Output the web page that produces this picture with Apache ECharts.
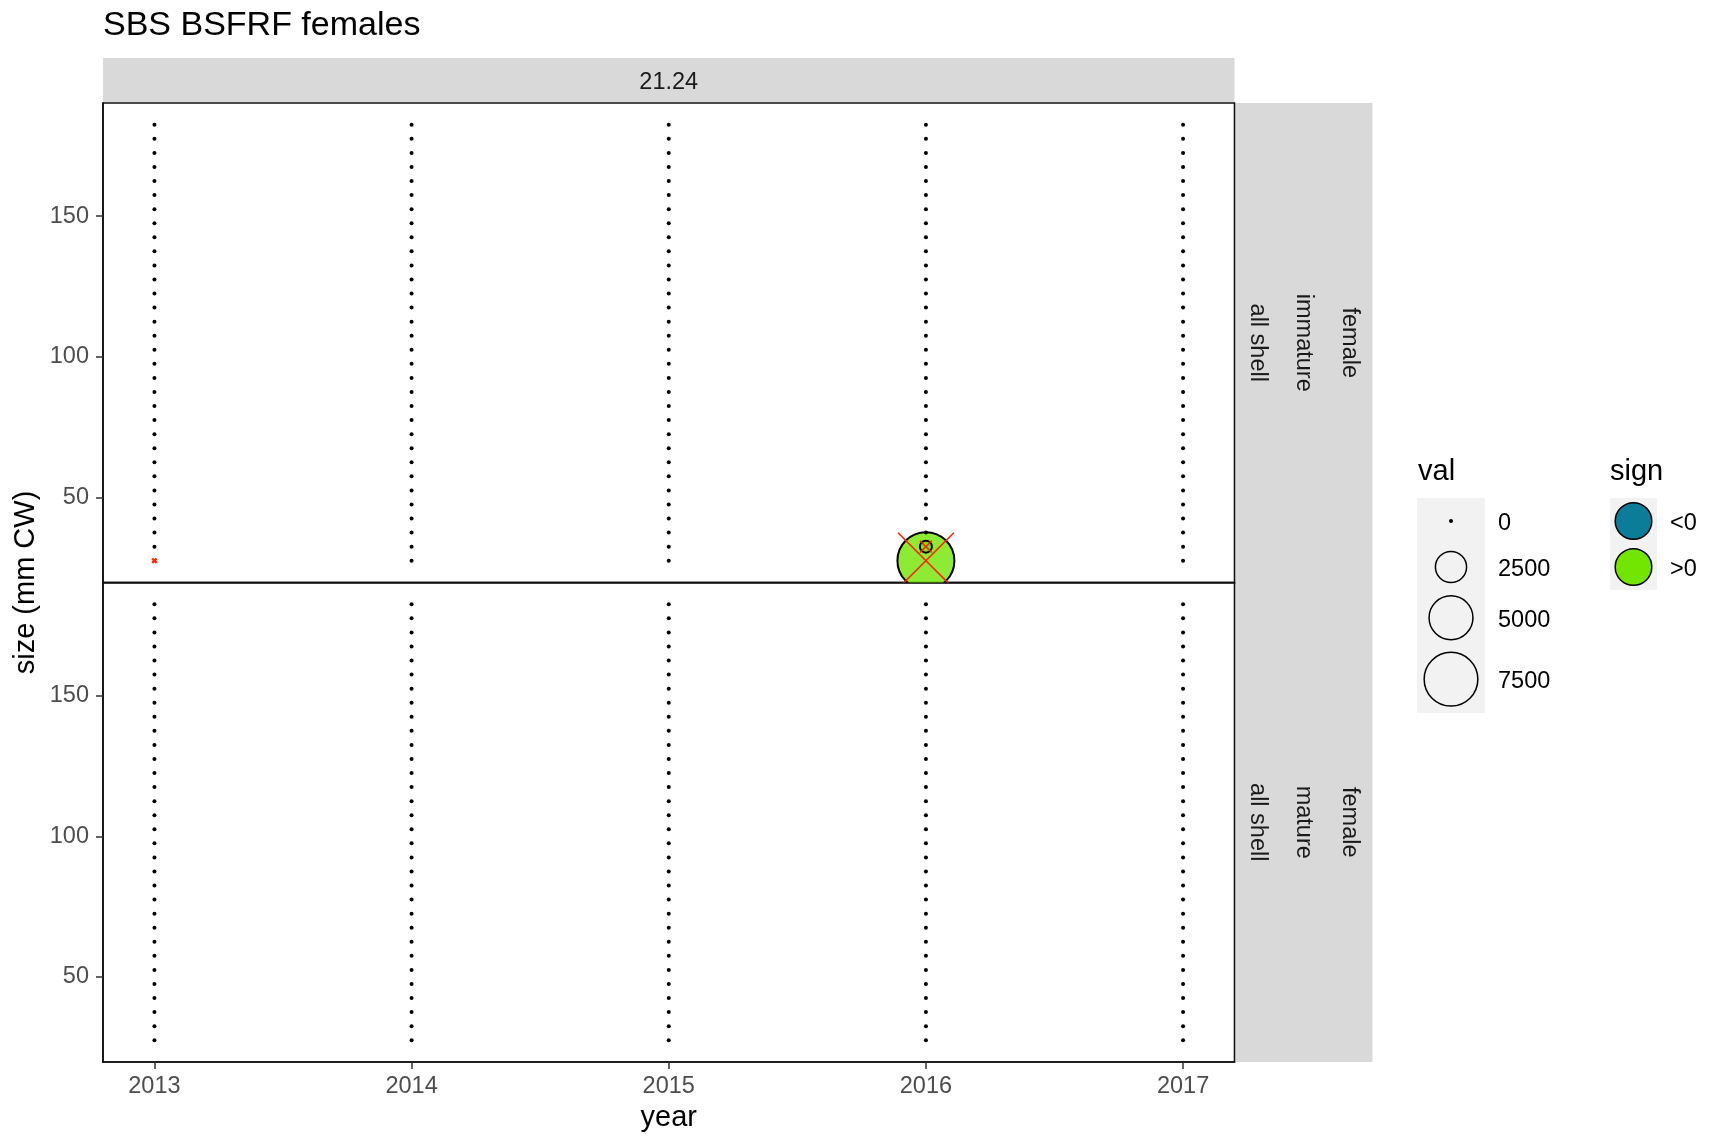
<!DOCTYPE html>
<html>
<head>
<meta charset="utf-8">
<script src="https://cdn.jsdelivr.net/npm/echarts@6/dist/echarts.min.js"></script>
<style>
html,body{margin:0;padding:0;background:#fff;}
#chart{width:1713px;height:1137px;}
</style>
</head>
<body>
<div id="chart"></div>
<script>
// ---------------- data ----------------
const years = [2013, 2014, 2015, 2016, 2017];
const sizeBins = [27.5, 32.5, 37.5, 42.5, 47.5, 52.5, 57.5, 62.5, 67.5, 72.5, 77.5, 82.5, 87.5, 92.5, 97.5, 102.5,
  107.5, 112.5, 117.5, 122.5, 127.5, 132.5, 137.5, 142.5, 147.5, 152.5, 157.5, 162.5, 167.5, 172.5, 177.5, 182.5];
const yTicks = [50, 100, 150];
const xTicks = [2013, 2014, 2015, 2016, 2017];

// immature females, one array per year (value per size bin)
const imm2013 = [null, 0, 0, 0, 0, 0, 0, 0, 0, 0, 0, 0, 0, 0, 0, 0, 0, 0, 0, 0, 0, 0, 0, 0, 0, 0, 0, 0, 0, 0, 0, 0];
const imm2014 = [0, 0, 0, 0, 0, 0, 0, 0, 0, 0, 0, 0, 0, 0, 0, 0, 0, 0, 0, 0, 0, 0, 0, 0, 0, 0, 0, 0, 0, 0, 0, 0];
const imm2015 = [0, 0, 0, 0, 0, 0, 0, 0, 0, 0, 0, 0, 0, 0, 0, 0, 0, 0, 0, 0, 0, 0, 0, 0, 0, 0, 0, 0, 0, 0, 0, 0];
const imm2016 = [8460, 335, 0, 0, 0, 0, 0, 0, 0, 0, 0, 0, 0, 0, 0, 0, 0, 0, 0, 0, 0, 0, 0, 0, 0, 0, 0, 0, 0, 0, 0, 0];
const imm2017 = [0, 0, 0, 0, 0, 0, 0, 0, 0, 0, 0, 0, 0, 0, 0, 0, 0, 0, 0, 0, 0, 0, 0, 0, 0, 0, 0, 0, 0, 0, 0, 0];
// mature females
const mat2013 = [0, 0, 0, 0, 0, 0, 0, 0, 0, 0, 0, 0, 0, 0, 0, 0, 0, 0, 0, 0, 0, 0, 0, 0, 0, 0, 0, 0, 0, 0, 0, 0];
const mat2014 = [0, 0, 0, 0, 0, 0, 0, 0, 0, 0, 0, 0, 0, 0, 0, 0, 0, 0, 0, 0, 0, 0, 0, 0, 0, 0, 0, 0, 0, 0, 0, 0];
const mat2015 = [0, 0, 0, 0, 0, 0, 0, 0, 0, 0, 0, 0, 0, 0, 0, 0, 0, 0, 0, 0, 0, 0, 0, 0, 0, 0, 0, 0, 0, 0, 0, 0];
const mat2016 = [0, 0, 0, 0, 0, 0, 0, 0, 0, 0, 0, 0, 0, 0, 0, 0, 0, 0, 0, 0, 0, 0, 0, 0, 0, 0, 0, 0, 0, 0, 0, 0];
const mat2017 = [0, 0, 0, 0, 0, 0, 0, 0, 0, 0, 0, 0, 0, 0, 0, 0, 0, 0, 0, 0, 0, 0, 0, 0, 0, 0, 0, 0, 0, 0, 0, 0];

// red crosses (immature panel)
const crossYear = [2013, 2016, 2016];
const crossSize = [27.5, 27.5, 32.5];
const crossVal = [0, 8460, 335];

// legend
const valBreaks = [0, 2500, 5000, 7500];
const signLabels = ['<0', '>0'];

// ---------------- styling ----------------
const FONT = 'Liberation Sans, Arial, Helvetica, sans-serif';
const signColors = ['#0b7d98', '#72e600'];
const bubbleFill = 'rgba(114,230,0,0.8)';
const crossColor = '#ff2400';
function radiusOf(v) { return Math.sqrt(4 + 0.0955 * Math.max(0, v)); }

function buildData(arrs) {
  const out = [];
  years.forEach((y, i) => {
    arrs[i].forEach((v, j) => { if (v !== null) out.push([y, sizeBins[j], v]); });
  });
  return out;
}
const immData = buildData([imm2013, imm2014, imm2015, imm2016, imm2017]);
const matData = buildData([mat2013, mat2014, mat2015, mat2016, mat2017]);
const crossData = crossYear.map((y, i) => [y, crossSize[i], crossVal[i]]);

function renderPoint(params, api) {
  const c = api.coord([api.value(0), api.value(1)]);
  const r = radiusOf(api.value(2));
  if (r < 3.5) {
    return {type: 'circle', shape: {cx: c[0], cy: c[1], r: 2}, style: {fill: '#000'}};
  }
  return {type: 'circle', shape: {cx: c[0], cy: c[1], r: r},
    style: {fill: bubbleFill, stroke: '#000', lineWidth: 2}};
}
function renderCross(params, api) {
  const c = api.coord([api.value(0), api.value(1)]);
  const h = Math.max(2.2, radiusOf(api.value(2)) * 0.98);
  const lw = h < 4 ? 2.4 : 1.6;
  return {type: 'group', children: [
    {type: 'line', shape: {x1: c[0] - h, y1: c[1] - h, x2: c[0] + h, y2: c[1] + h}, style: {stroke: crossColor, lineWidth: lw}},
    {type: 'line', shape: {x1: c[0] + h, y1: c[1] - h, x2: c[0] - h, y2: c[1] + h}, style: {stroke: crossColor, lineWidth: lw}}
  ]};
}

// ---------------- layout ----------------
const PL = 103, PR = 1234.5, PT = 103, PM = 582.5, PB = 1062;
const gridBase = {left: PL, width: PR - PL, show: true, borderColor: '#111', borderWidth: 1.6, backgroundColor: '#fff'};

function yAxisFor(gi) {
  return {
    type: 'value', gridIndex: gi, min: 19.75, max: 190.25,
    splitLine: {show: false},
    axisLine: {show: true, lineStyle: {color: '#111', width: 1.6}},
    axisTick: {show: true, length: 7, customValues: yTicks, lineStyle: {color: '#333', width: 1.5}},
    axisLabel: {show: true, customValues: yTicks, fontSize: 23.5, color: '#4d4d4d', margin: 14, fontFamily: FONT,
      formatter: v => String(v)}
  };
}
function xAxisFor(gi, showLabels) {
  return {
    type: 'value', gridIndex: gi, min: 2012.8, max: 2017.2,
    splitLine: {show: false},
    axisLine: {show: true, lineStyle: {color: '#111', width: 1.6}},
    axisTick: {show: showLabels, length: 7, customValues: xTicks, lineStyle: {color: '#333', width: 1.5}},
    axisLabel: {show: showLabels, customValues: xTicks, fontSize: 23.5, color: '#4d4d4d', margin: 13, fontFamily: FONT,
      formatter: v => String(v)}
  };
}

const graphics = [];
// strips
graphics.push({type: 'rect', shape: {x: PL, y: 58, width: PR - PL, height: PT - 59}, style: {fill: '#d9d9d9'}, z: -1});
graphics.push({type: 'text', x: (PL + PR) / 2, y: 83, style: {text: '21.24', font: '23.5px ' + FONT, fill: '#1a1a1a', align: 'center', verticalAlign: 'middle'}, z: 2});
graphics.push({type: 'rect', shape: {x: PR + 1, y: PT, width: 1372.5 - PR - 1, height: PB - PT}, style: {fill: '#d9d9d9'}, z: -1});
const stripCols = [1257.5, 1303.5, 1349.5];
const stripRows = [[(PT + PM) / 2, ['all shell', 'immature', 'female']], [(PM + PB) / 2, ['all shell', 'mature', 'female']]];
stripRows.forEach(([cy, labs]) => {
  labs.forEach((t, k) => {
    graphics.push({type: 'text', x: stripCols[k], y: cy, rotation: -Math.PI / 2,
      style: {text: t, font: '23.5px ' + FONT, fill: '#1a1a1a', align: 'center', verticalAlign: 'middle'}, z: 2});
  });
});
// axis titles
graphics.push({type: 'text', x: (PL + PR) / 2, y: 1118, style: {text: 'year', font: '29px ' + FONT, fill: '#000', align: 'center', verticalAlign: 'middle'}});
graphics.push({type: 'text', x: 26, y: (PT + PB) / 2, rotation: Math.PI / 2, style: {text: 'size (mm CW)', font: '29px ' + FONT, fill: '#000', align: 'center', verticalAlign: 'middle'}});

// legend: val
graphics.push({type: 'text', x: 1418, y: 472, style: {text: 'val', font: '29px ' + FONT, fill: '#000', align: 'left', verticalAlign: 'middle'}});
const keyH = [46, 46, 55.4, 67.6];
let ky = 498;
graphics.push({type: 'rect', shape: {x: 1417, y: ky, width: 68, height: keyH.reduce((a, b) => a + b, 0)}, style: {fill: '#f2f2f2'}});
valBreaks.forEach((b, i) => {
  const cy = ky + keyH[i] / 2;
  const r = radiusOf(b);
  if (r < 3.5) {
    graphics.push({type: 'circle', shape: {cx: 1451, cy: cy, r: 2}, style: {fill: '#000'}});
  } else {
    graphics.push({type: 'circle', shape: {cx: 1451, cy: cy, r: r}, style: {fill: 'none', stroke: '#000', lineWidth: 1.5}});
  }
  graphics.push({type: 'text', x: 1498, y: cy + 2.5, style: {text: String(b), font: '23.5px ' + FONT, fill: '#000', align: 'left', verticalAlign: 'middle'}});
  ky += keyH[i];
});
// legend: sign
graphics.push({type: 'text', x: 1610, y: 472, style: {text: 'sign', font: '29px ' + FONT, fill: '#000', align: 'left', verticalAlign: 'middle'}});
graphics.push({type: 'rect', shape: {x: 1610, y: 498, width: 47, height: 92}, style: {fill: '#f2f2f2'}});
signLabels.forEach((t, i) => {
  const cy = 498 + 23 + 46 * i;
  graphics.push({type: 'circle', shape: {cx: 1633.5, cy: cy, r: 18.3}, style: {fill: signColors[i], stroke: '#000', lineWidth: 1.5}});
  graphics.push({type: 'text', x: 1670, y: cy + 2.5, style: {text: t, font: '23.5px ' + FONT, fill: '#000', align: 'left', verticalAlign: 'middle'}});
});

const option = {
  backgroundColor: '#fff',
  animation: false,
  title: {text: 'SBS BSFRF females', left: 98, top: 4,
    textStyle: {fontSize: 34, fontWeight: 'normal', color: '#000', fontFamily: FONT}},
  grid: [
    Object.assign({top: PT, height: PM - PT}, gridBase),
    Object.assign({top: PM, height: PB - PM}, gridBase)
  ],
  xAxis: [xAxisFor(0, false), xAxisFor(1, true)],
  yAxis: [yAxisFor(0), yAxisFor(1)],
  series: [
    {type: 'custom', name: 'immature', xAxisIndex: 0, yAxisIndex: 0, clip: true,
      dimensions: ['year', 'size', 'val'], encode: {x: 'year', y: 'size'},
      data: immData, renderItem: renderPoint, z: 3},
    {type: 'custom', name: 'immature-x', xAxisIndex: 0, yAxisIndex: 0, clip: true,
      dimensions: ['year', 'size', 'val'], encode: {x: 'year', y: 'size'},
      data: crossData, renderItem: renderCross, z: 4},
    {type: 'custom', name: 'mature', xAxisIndex: 1, yAxisIndex: 1, clip: true,
      dimensions: ['year', 'size', 'val'], encode: {x: 'year', y: 'size'},
      data: matData, renderItem: renderPoint, z: 3}
  ],
  graphic: graphics
};

const chart = echarts.init(document.getElementById('chart'), null, {renderer: 'canvas'});
chart.setOption(option);
</script>
</body>
</html>
